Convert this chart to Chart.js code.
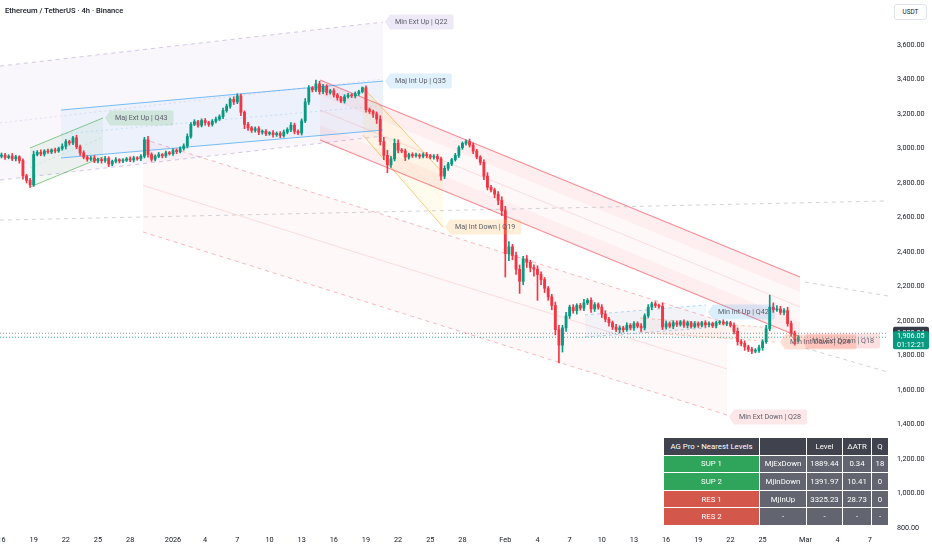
<!DOCTYPE html>
<html>
<head>
<meta charset="utf-8">
<script src="https://cdn.jsdelivr.net/npm/chart.js@4.4.1/dist/chart.umd.min.js"></script>
<style>
html, body { margin: 0; padding: 0; background: #fff; overflow: hidden; }
#wrap { position: relative; width: 932px; height: 550px; font-family: Roboto, "Open Sans", sans-serif; }
canvas { display: block; }
#title { position: absolute; left: 5px; top: 6px; font-size: 7.6px; font-weight: 500; color: #131722; }
#unit { position: absolute; left: 894px; top: 4px; width: 33px; height: 16px; border: 1px solid #e0e3eb; border-radius: 3px;
        box-sizing: border-box; font-size: 6.4px; line-height: 14px; text-align: center; color: #131722; background: #fff; }
#levels { position: absolute; left: 663px; top: 437px; width: 225px; border-collapse: collapse; table-layout: fixed;
          font-size: 7.8px; color: #fff; }
#levels td { border: 1px solid rgba(255,255,255,0.85); height: 16.6px; padding: 0 2px; text-align: center;
             white-space: nowrap; overflow: hidden; background: #62656f; }
#levels tr.head td { background: #40434d; }
</style>
</head>
<body>
<div id="wrap">
  <canvas id="chart" width="932" height="550"></canvas>
  <div id="title">Ethereum / TetherUS · 4h · Binance</div>
  <div id="unit">USDT</div>
  <table id="levels">
    <colgroup><col style="width:96px"><col style="width:47px"><col style="width:36px"><col style="width:29px"><col style="width:17px"></colgroup>
    <tbody id="levelsBody"></tbody>
  </table>
</div>
<script>
// --- Candles (8h bars, day 0 = 1 Jan 2026) ---
const firstCandleDay = -16;
const candleStep = 1 / 3;
const firstOpen = 2955;

const closes = [
  2962, 2948, 2956, 2940, 2952, 2930, 2842, 2815, 2790, 2965,
  2978, 2968, 2985, 2980, 2992, 2986, 3000, 3012, 3040, 3032,
  3062, 3010, 2975, 2950, 2938, 2945, 2928, 2936, 2930, 2942,
  2910, 2925, 2935, 2928, 2932, 2940, 2934, 2945, 2940, 2955,
  3050, 2965, 2938, 2955, 2965, 2958, 2975, 2970, 2988, 2982,
  3000, 3015, 3070, 3140, 3155, 3135, 3162, 3150, 3140, 3158,
  3170, 3185, 3220, 3245, 3285, 3270, 3305, 3210, 3140, 3120,
  3105, 3115, 3095, 3100, 3085, 3092, 3080, 3088, 3075, 3095,
  3110, 3135, 3100, 3090, 3160, 3270, 3350, 3340, 3375, 3330,
  3360, 3325, 3335, 3310, 3295, 3275, 3300, 3310, 3305, 3318,
  3330, 3352, 3225, 3215, 3200, 3170, 3040, 2960, 2905, 2940,
  3030, 2990, 2985, 2950, 2965, 2958, 2962, 2955, 2965, 2958,
  2950, 2955, 2940, 2840, 2885, 2910, 2935, 2960, 3005, 3030,
  3040, 3020, 2985, 2950, 2920, 2840, 2775, 2760, 2735, 2700,
  2640, 2390, 2430, 2380, 2300, 2230, 2360, 2340, 2310, 2300,
  2270, 2240, 2190, 2140, 2090, 1950, 1860, 1960, 2030, 2080,
  2060, 2090, 2075, 2105, 2120, 2070, 2095, 2080, 2040, 2010,
  1990, 1965, 1950, 1960, 1950, 1975, 1960, 1985, 1970, 1960,
  2030, 2080, 2100, 2090, 2085, 1965, 1985, 1970, 1990, 1980,
  1995, 1975, 1990, 1968, 1985, 1975, 1990, 1978, 1985, 1972,
  1990, 1995, 1985, 1990, 1975, 1940, 1880, 1870, 1850, 1835,
  1825, 1830, 1845, 1880, 1955, 2080, 2065, 2070, 2050, 2060,
  1985, 1930, 1890, 1906
];
const upperWick = [
  12, 10, 8, 15, 9, 6, 10, 8, 12, 20,
  10, 14, 8, 12, 6, 10, 8, 15, 12, 8,
  8, 15, 10, 12, 8, 10, 14, 8, 10, 12,
  10, 8, 12, 6, 10, 8, 12, 10, 8, 10,
  15, 20, 10, 8, 12, 6, 10, 8, 12, 10,
  10, 12, 15, 10, 12, 8, 10, 12, 8, 10,
  12, 10, 15, 12, 8, 15, 12, 10, 8, 12,
  8, 10, 12, 8, 10, 6, 12, 8, 10, 12,
  10, 15, 12, 8, 12, 20, 15, 10, 22, 15,
  12, 10, 8, 12, 10, 8, 12, 10, 8, 10,
  8, 5, 12, 10, 8, 12, 20, 25, 30, 15,
  25, 20, 10, 12, 8, 10, 12, 8, 10, 12,
  8, 10, 12, 10, 15, 10, 8, 12, 10, 8,
  10, 15, 12, 10, 8, 15, 20, 12, 10, 15,
  20, 25, 30, 15, 20, 25, 15, 20, 12, 15,
  20, 15, 12, 10, 15, 20, 25, 15, 20, 12,
  15, 10, 12, 20, 10, 15, 12, 10, 15, 20,
  12, 10, 15, 12, 10, 15, 10, 12, 10, 15,
  12, 15, 10, 12, 8, 20, 15, 10, 12, 10,
  8, 12, 10, 8, 12, 10, 8, 12, 10, 8,
  10, 8, 12, 10, 8, 15, 20, 12, 15, 10,
  12, 10, 15, 12, 20, 70, 25, 20, 15, 12,
  20, 15, 12, 10
];
const lowerWick = [
  10, 12, 8, 10, 12, 15, 20, 15, 15, 10,
  8, 10, 12, 8, 10, 12, 8, 10, 15, 12,
  10, 12, 15, 10, 12, 8, 10, 12, 15, 10,
  15, 10, 8, 12, 10, 8, 10, 12, 8, 10,
  10, 15, 12, 10, 8, 12, 10, 8, 10, 12,
  8, 10, 12, 10, 8, 12, 10, 15, 12, 10,
  10, 8, 12, 10, 12, 15, 10, 20, 25, 15,
  12, 10, 15, 12, 10, 8, 15, 10, 12, 10,
  10, 12, 15, 10, 12, 10, 15, 12, 10, 15,
  12, 15, 10, 12, 15, 10, 12, 8, 10, 12,
  10, 8, 15, 12, 20, 25, 20, 25, 45, 15,
  12, 15, 10, 20, 12, 10, 8, 12, 10, 12,
  10, 12, 15, 23, 15, 12, 10, 8, 12, 10,
  10, 12, 15, 10, 15, 20, 15, 12, 20, 25,
  30, 135, 40, 25, 30, 70, 20, 30, 25, 40,
  150, 30, 25, 20, 25, 30, 103, 40, 20, 15,
  15, 20, 12, 15, 10, 20, 15, 12, 20, 15,
  20, 15, 12, 20, 15, 10, 12, 15, 10, 20,
  12, 10, 15, 12, 10, 15, 12, 10, 15, 12,
  10, 12, 15, 10, 8, 12, 10, 15, 12, 10,
  12, 10, 8, 12, 10, 15, 20, 15, 20, 12,
  15, 10, 12, 15, 10, 12, 15, 10, 12, 15,
  15, 20, 30, 10
];

// --- Axes ---
const xTickDays = [-16, -13, -10, -7, -4, 0, 3, 6, 9, 12, 15, 18, 21, 24, 27, 31, 34, 37, 40, 43, 46, 49, 52, 55, 59, 62, 65];
const xTickLabels = ['16', '19', '22', '25', '28', '2026', '4', '7', '10', '13', '16', '19', '22', '25', '28',
                     'Feb', '4', '7', '10', '13', '16', '19', '22', '25', 'Mar', '4', '7'];
const yTicks = [800, 1000, 1200, 1400, 1600, 1800, 2000, 2200, 2400, 2600, 2800, 3000, 3200, 3400, 3600];
const xMin = -16.14, xMax = 66.7;
const yMin = 788.4, yMax = 3860.9;

// --- Channels: [startDay, startPrice, endDay, endPrice] ---
const minExtUpTop = [-16.14, 3478, 19.59, 3733];
const minExtUpMid = [-16.14, 3148, 19.59, 3403];
const minExtUpBot = [-16.14, 2817, 19.59, 3072];

const majIntUpTop = [-10.45, 3223, 19.59, 3391];
const majIntUpMid = [-10.45, 3084, 19.59, 3249];
const majIntUpBot = [-10.45, 2945, 19.59, 3107];

const majExtUpTop = [-13.34, 3003, -6.53, 3177];
const majExtUpMid = [-13.34, 2890, -6.53, 3064];
const majExtUpBot = [-13.34, 2777, -6.53, 2951];

const majIntDownTop = [17.7, 3356, 25.19, 2858];
const majIntDownMid = [17.7, 3217, 25.19, 2701];
const majIntDownBot = [17.7, 3078, 25.19, 2545];

const majExtDownTop = [13.71, 3397, 58.49, 2255];
const majExtDownQ1 = [13.71, 3310, 58.49, 2168];
const majExtDownMid = [13.71, 3223, 58.49, 2081];
const majExtDownQ3 = [13.71, 3136, 58.49, 1994];
const majExtDownBot = [13.71, 3049, 58.49, 1907];

const minExtDownTop = [-2.8, 3055, 51.68, 1988];
const minExtDownMid = [-2.8, 2786, 51.68, 1722];
const minExtDownBot = [-2.8, 2516, 51.68, 1455];

const minIntUpTop = [38.43, 2035, 49.72, 2093];
const minIntUpBot = [38.43, 1907, 49.72, 1959];

const minIntDownTop = [43.56, 2017, 56.25, 1959];
const minIntDownBot = [43.56, 1936, 56.25, 1878];

const baseLine = [-16.14, 2585, 66.7, 2696];
const projUpper = [58.96, 2226, 66.7, 2145];
const projLower = [58.96, 1843, 66.7, 1704];

const prevPrice = 1928.84;
const lastPrice = 1906.05;
const countdown = '01:12:21';

// --- Channel labels ---
const labelTexts = ['Min Ext Up | Q22', 'Maj Int Up | Q35', 'Maj Ext Up | Q43', 'Maj Int Down | Q19',
                    'Min Int Up | Q42', 'Min Int Down | Q24', 'Maj Ext Down | Q18', 'Min Ext Down | Q28'];
const labelDays = [19.59, 19.59, -6.53, 25.19, 49.72, 56.44, 58.49, 51.68];
const labelPrices = [3733, 3391, 3177, 2545, 2052, 1878, 1884, 1443];

// --- Levels table ---
const levelNames = ['SUP 1', 'SUP 2', 'RES 1', 'RES 2'];
const levelTypes = ['MjExDown', 'MjInDown', 'MjInUp', '-'];
const levelValues = ['1889.44', '1391.97', '3325.23', '-'];
const levelAtr = ['0.34', '10.41', '28.73', '-'];
const levelQ = ['18', '0', '0', '-'];

// --- Styles ---
const UP = '#089981';
const DOWN = '#f23645';
const FONT = 'Roboto, "Open Sans", sans-serif';
const labelFills = ['rgba(149,117,205,0.16)', 'rgba(33,150,243,0.14)', 'rgba(76,175,80,0.18)', 'rgba(255,183,77,0.22)',
                    'rgba(33,150,243,0.16)', 'rgba(255,138,101,0.28)', 'rgba(242,54,69,0.16)', 'rgba(242,54,69,0.12)'];

// --- Build candle data ---
const opens = closes.map((c, i) => i === 0 ? firstOpen : closes[i - 1]);
const candleDays = closes.map((c, i) => firstCandleDay + i * candleStep);
const candleColors = closes.map((c, i) => c >= opens[i] ? UP : DOWN);

const datasets = [];
datasets.push({
    type: 'bar',
    data: closes.map((c, i) => ({ x: candleDays[i], y: [opens[i], c] })),
    backgroundColor: candleColors,
    barThickness: 2.2,
    minBarLength: 1,
    grouped: false,
    order: 0
});
datasets.push({
    type: 'bar',
    data: closes.map((c, i) => ({
        x: candleDays[i],
        y: [Math.min(opens[i], c) - lowerWick[i], Math.max(opens[i], c) + upperWick[i]]
    })),
    backgroundColor: candleColors,
    barThickness: 1,
    grouped: false,
    order: 1
});

function addLine(seg, opts) {
    datasets.push(Object.assign({
        type: 'line',
        data: [{ x: seg[0], y: seg[1] }, { x: seg[2], y: seg[3] }],
        pointRadius: 0,
        borderWidth: 1,
        borderColor: 'rgba(0,0,0,0)',
        fill: false,
        tension: 0,
        order: 5
    }, opts));
    return datasets.length - 1;
}

// lavender channel
let b = addLine(minExtUpBot, { borderColor: 'rgba(149,117,205,0.4)', borderDash: [4, 4] });
addLine(minExtUpMid, { borderColor: 'rgba(149,117,205,0.2)', borderDash: [2, 3] });
addLine(minExtUpTop, { borderColor: 'rgba(149,117,205,0.4)', borderDash: [4, 4], fill: { target: b }, backgroundColor: 'rgba(149,117,205,0.055)', order: 8 });

// pink channel
b = addLine(minExtDownBot, { borderColor: 'rgba(242,54,69,0.35)', borderDash: [4, 4] });
addLine(minExtDownMid, { borderColor: 'rgba(242,54,69,0.15)', borderWidth: 1 });
addLine(minExtDownTop, { borderColor: 'rgba(242,54,69,0.35)', borderDash: [4, 4], fill: { target: b }, backgroundColor: 'rgba(242,54,69,0.035)', order: 8 });

// blue channel
b = addLine(majIntUpBot, { borderColor: 'rgba(33,150,243,0.6)' });
addLine(majIntUpMid, { borderColor: 'rgba(33,150,243,0.2)', borderDash: [2, 3] });
addLine(majIntUpTop, { borderColor: 'rgba(33,150,243,0.6)', fill: { target: b }, backgroundColor: 'rgba(33,150,243,0.06)', order: 7 });

// green channel
b = addLine(majExtUpBot, { borderColor: 'rgba(76,175,80,0.65)' });
addLine(majExtUpMid, { borderColor: 'rgba(76,175,80,0.2)', borderDash: [2, 3] });
addLine(majExtUpTop, { borderColor: 'rgba(76,175,80,0.65)', fill: { target: b }, backgroundColor: 'rgba(76,175,80,0.07)', order: 7 });

// red channel with edge bands
b = addLine(majExtDownBot, { borderColor: 'rgba(242,54,69,0.55)', borderWidth: 1.2 });
let t = addLine(majExtDownTop, { borderColor: 'rgba(242,54,69,0.55)', borderWidth: 1.2, fill: { target: b }, backgroundColor: 'rgba(242,54,69,0.035)', order: 7 });
addLine(majExtDownQ1, { borderWidth: 0, fill: { target: t }, backgroundColor: 'rgba(242,54,69,0.05)', order: 6 });
addLine(majExtDownQ3, { borderWidth: 0, fill: { target: b }, backgroundColor: 'rgba(242,54,69,0.05)', order: 6 });
addLine(majExtDownMid, { borderColor: 'rgba(242,54,69,0.15)' });

// orange channel
b = addLine(majIntDownBot, { borderColor: 'rgba(255,167,38,0.6)' });
addLine(majIntDownMid, { borderColor: 'rgba(255,167,38,0.2)', borderDash: [2, 3] });
addLine(majIntDownTop, { borderColor: 'rgba(255,167,38,0.6)', fill: { target: b }, backgroundColor: 'rgba(255,193,7,0.07)', order: 6 });

// small channels
b = addLine(minIntUpBot, { borderColor: 'rgba(33,150,243,0.35)', borderDash: [3, 3] });
addLine(minIntUpTop, { borderColor: 'rgba(33,150,243,0.35)', borderDash: [3, 3], fill: { target: b }, backgroundColor: 'rgba(33,150,243,0.06)', order: 6 });
b = addLine(minIntDownBot, { borderColor: 'rgba(255,138,101,0.45)', borderDash: [3, 3] });
addLine(minIntDownTop, { borderColor: 'rgba(255,138,101,0.45)', borderDash: [3, 3], fill: { target: b }, backgroundColor: 'rgba(255,138,101,0.07)', order: 6 });

// projections and reference lines
addLine(baseLine, { borderColor: 'rgba(178,181,190,0.6)', borderDash: [4, 4] });
addLine(projUpper, { borderColor: 'rgba(178,181,190,0.6)', borderDash: [4, 4] });
addLine(projLower, { borderColor: 'rgba(178,181,190,0.6)', borderDash: [4, 4] });
addLine([xMin, prevPrice, xMax, prevPrice], { borderColor: 'rgba(120,123,134,0.8)', borderDash: [1, 2], order: 2 });
addLine([xMin, lastPrice, xMax, lastPrice], { borderColor: 'rgba(8,153,129,0.8)', borderDash: [1, 2], order: 2 });

function fmtPrice(v) {
    return v.toLocaleString('en-US', { minimumFractionDigits: 2, maximumFractionDigits: 2 });
}

function roundBox(ctx, x, y, w, h, r) {
    ctx.beginPath();
    ctx.moveTo(x + r, y);
    ctx.arcTo(x + w, y, x + w, y + h, r);
    ctx.arcTo(x + w, y + h, x, y + h, r);
    ctx.arcTo(x, y + h, x, y, r);
    ctx.arcTo(x, y, x + w, y, r);
    ctx.closePath();
}

// channel labels + price tags on the axis
const overlayPlugin = {
    id: 'overlay',
    afterDatasetsDraw(chart) {
        const { ctx, scales } = chart;
        ctx.save();
        ctx.font = '7.2px ' + FONT;
        ctx.textBaseline = 'middle';
        labelTexts.forEach((txt, i) => {
            const px = scales.x.getPixelForValue(labelDays[i]) + 2;
            const py = scales.y.getPixelForValue(labelPrices[i]);
            const w = ctx.measureText(txt).width + 11;
            const h = 15;
            ctx.fillStyle = labelFills[i];
            ctx.beginPath();
            ctx.moveTo(px, py);
            ctx.lineTo(px + 5, py - h / 2);
            ctx.arcTo(px + 5 + w, py - h / 2, px + 5 + w, py + h / 2, 2);
            ctx.arcTo(px + 5 + w, py + h / 2, px + 5, py + h / 2, 2);
            ctx.lineTo(px + 5, py + h / 2);
            ctx.closePath();
            ctx.fill();
            ctx.fillStyle = '#5d606b';
            ctx.fillText(txt, px + 10, py + 0.5);
        });
        ctx.restore();
    },
    afterDraw(chart) {
        const { ctx, scales, chartArea } = chart;
        const x0 = chartArea.right + 5;
        const w = 36;
        ctx.save();
        ctx.font = '7.2px ' + FONT;
        ctx.textBaseline = 'middle';
        const pPrev = scales.y.getPixelForValue(prevPrice);
        ctx.fillStyle = '#363a45';
        roundBox(ctx, x0, pPrev - 6.5, w, 13, 2);
        ctx.fill();
        ctx.fillStyle = '#fff';
        ctx.fillText(fmtPrice(prevPrice), x0 + 4, pPrev);
        const pLast = scales.y.getPixelForValue(lastPrice);
        ctx.fillStyle = UP;
        roundBox(ctx, x0, pLast - 6, w, 18, 2);
        ctx.fill();
        ctx.fillStyle = '#fff';
        ctx.fillText(fmtPrice(lastPrice), x0 + 4, pLast - 1);
        ctx.fillText(countdown, x0 + 4, pLast + 7.5);
        ctx.restore();
    }
};

Chart.defaults.font.family = FONT;

new Chart(document.getElementById('chart'), {
    type: 'bar',
    data: { datasets },
    options: {
        responsive: false,
        animation: false,
        layout: { padding: 0 },
        plugins: { legend: { display: false }, tooltip: { enabled: false } },
        scales: {
            x: {
                type: 'linear',
                min: xMin,
                max: xMax,
                offset: false,
                grid: { display: false, drawTicks: false },
                border: { display: false },
                ticks: {
                    autoSkip: false,
                    maxRotation: 0,
                    padding: 6,
                    color: '#131722',
                    font: { size: 7.3 },
                    callback: (v, i) => xTickLabels[i]
                },
                afterBuildTicks: s => { s.ticks = xTickDays.map(v => ({ value: v })); },
                afterFit: s => { s.height = 20; s.paddingLeft = 0; s.paddingRight = 0; }
            },
            y: {
                type: 'linear',
                position: 'right',
                min: yMin,
                max: yMax,
                grid: { display: false, drawTicks: false },
                border: { display: false },
                ticks: {
                    padding: 9,
                    color: '#131722',
                    font: { size: 7.2 },
                    callback: v => fmtPrice(v)
                },
                afterBuildTicks: s => { s.ticks = yTicks.map(v => ({ value: v })); },
                afterFit: s => { s.width = 44; s.paddingTop = 0; s.paddingBottom = 0; }
            }
        }
    },
    plugins: [overlayPlugin]
});

// --- Levels table ---
const body = document.getElementById('levelsBody');
const head = document.createElement('tr');
head.className = 'head';
['AG Pro • Nearest Levels', '', 'Level', 'ΔATR', 'Q'].forEach(txt => {
    const td = document.createElement('td');
    td.textContent = txt;
    head.appendChild(td);
});
body.appendChild(head);
levelNames.forEach((name, i) => {
    const tr = document.createElement('tr');
    [name, levelTypes[i], levelValues[i], levelAtr[i], levelQ[i]].forEach((txt, j) => {
        const td = document.createElement('td');
        td.textContent = txt;
        if (j === 0) td.style.background = name.startsWith('SUP') ? '#2fa55c' : '#d4574b';
        tr.appendChild(td);
    });
    body.appendChild(tr);
});
</script>
</body>
</html>
